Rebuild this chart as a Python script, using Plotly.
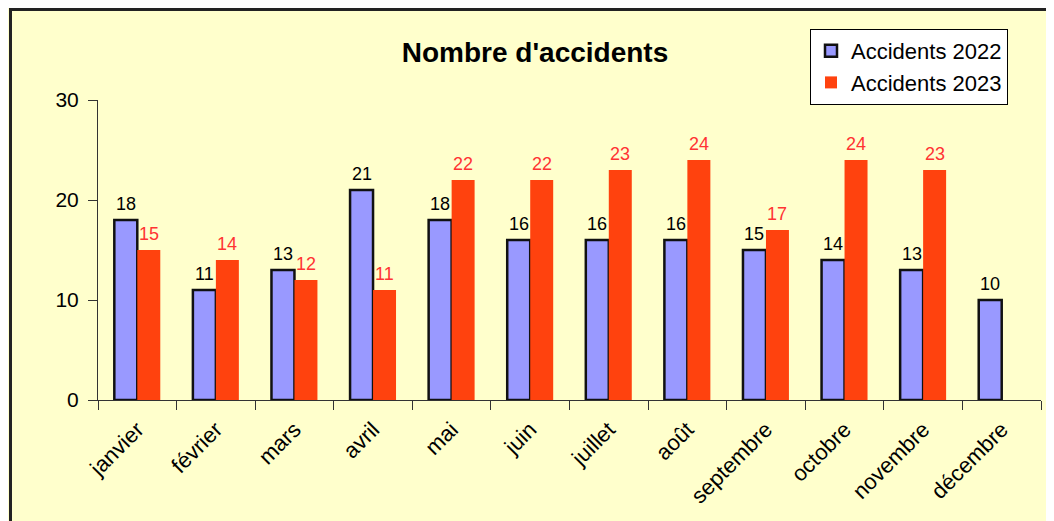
import plotly.graph_objects as go

# ---------------------------------------------------------
# Data
# ---------------------------------------------------------

MONTHS = [
    "janvier", "février", "mars", "avril", "mai", "juin",
    "juillet", "août", "septembre", "octobre", "novembre", "décembre",
]

ACCIDENTS_2022 = [18, 11, 13, 21, 18, 16, 16, 16, 15, 14, 13, 10]
ACCIDENTS_2023 = [15, 14, 12, 11, 22, 22, 23, 24, 17, 24, 23, None]

BG = "#FFFFCC"
BLUE = "#9999FF"
RED = "#FF420E"
RED_TEXT = "#FF3333"

W, H = 1054, 521
OFF = 8  # the page body margin pushes the figure 8px right and down

fig = go.Figure()

fig.add_bar(
    x=MONTHS,
    y=ACCIDENTS_2022,
    name="Accidents 2022",
    legendgroup="a",
    marker=dict(color=BLUE, line=dict(color="#111111", width=2.5)),
)

fig.add_bar(
    x=MONTHS,
    y=ACCIDENTS_2023,
    name="Accidents 2023",
    legendgroup="b",
    marker=dict(color=RED, line=dict(width=0)),
)

# value labels above each bar
labels = []
for month, v22, v23 in zip(MONTHS, ACCIDENTS_2022, ACCIDENTS_2023):
    labels.append(dict(
        x=month, y=v22, text=str(v22), xshift=-11.5, yshift=4,
        showarrow=False, yanchor="bottom",
        font=dict(family="Liberation Sans", size=18, color="black"),
    ))
    if v23 is not None:
        labels.append(dict(
            x=month, y=v23, text=str(v23), xshift=11.5, yshift=4,
            showarrow=False, yanchor="bottom",
            font=dict(family="Liberation Sans", size=18, color=RED_TEXT),
        ))

# plot area on screen: x 98..1041, y 100..400
left, right, top, bottom = 98 - OFF, 1041 - OFF, 100 - OFF, 400 - OFF

fig.update_layout(
    width=W,
    height=H,
    barmode="group",
    bargap=0.415,
    bargroupgap=0,
    paper_bgcolor=BG,
    plot_bgcolor=BG,
    font=dict(family="Liberation Sans", color="black"),
    margin=dict(l=left, r=W - right, t=top, b=H - bottom, autoexpand=False),
    annotations=labels,
    title=dict(
        text="<b>Nombre d'accidents</b>",
        font=dict(family="Liberation Sans", size=28, color="black"),
        x=(535 - OFF) / W,
        xanchor="center",
        xref="container",
        y=1 - (52 - OFF) / H,
        yanchor="middle",
        yref="container",
    ),
    legend=dict(
        xref="container",
        yref="container",
        x=(810 - OFF) / W,
        y=1 - (29 - OFF) / H,
        xanchor="left",
        yanchor="top",
        bgcolor="white",
        bordercolor="black",
        borderwidth=1,
        itemwidth=30,
        font=dict(family="Liberation Sans", size=22, color="black"),
        tracegroupgap=0,
    ),
    xaxis=dict(
        type="category",
        automargin=False,
        showline=True,
        linecolor="#333333",
        linewidth=1,
        ticks="outside",
        tickson="boundaries",
        ticklen=9,
        tickcolor="#333333",
        tickangle=-45,
        ticklabelstandoff=7,
        tickfont=dict(family="Liberation Sans", size=22, color="black"),
        showgrid=False,
    ),
    yaxis=dict(
        range=[0, 30],
        dtick=10,
        automargin=False,
        showline=True,
        linecolor="#333333",
        linewidth=1,
        ticks="outside",
        ticklen=9,
        tickcolor="#333333",
        ticklabelstandoff=5,
        tickfont=dict(family="Liberation Sans", size=21, color="black"),
        showgrid=False,
        zeroline=False,
    ),
    shapes=[
        dict(
            type="rect",
            xref="paper",
            yref="paper",
            x0=(10.5 - 98) / 943,
            x1=1.2,
            y0=-0.6,
            y1=(400 - 9.5) / 300,
            line=dict(color="#222222", width=3),
            fillcolor="rgba(0,0,0,0)",
            layer="below",
        )
    ],
)

fig.write_html("out.html")
